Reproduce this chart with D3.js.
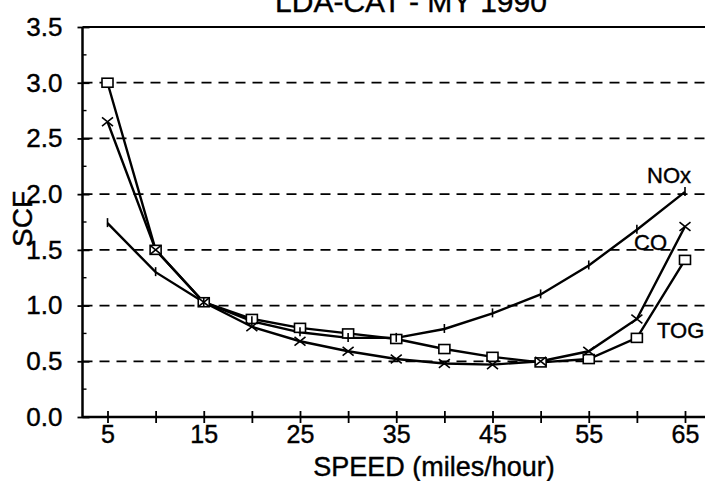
<!DOCTYPE html>
<html>
<head>
<meta charset="utf-8">
<script src="https://cdn.jsdelivr.net/npm/d3@7"></script>
<style>
  body { margin: 0; background: #fff; }
  svg { display: block; font-family: "Liberation Sans", Arial, sans-serif; }
  text { stroke: #000; stroke-width: 0.4px; fill: #000; }
</style>
</head>
<body>
<div id="chart"></div>
<script>
// chart data
var speeds = [5, 10, 15, 20, 25, 30, 35, 40, 45, 50, 55, 60, 65];
var tog = [3.00, 1.50, 1.03, 0.88, 0.80, 0.75, 0.70, 0.61, 0.54, 0.49, 0.52, 0.71, 1.41];
var co  = [2.65, 1.50, 1.03, 0.81, 0.68, 0.59, 0.52, 0.48, 0.47, 0.50, 0.59, 0.88, 1.71];
var nox = [1.74, 1.30, 1.03, 0.86, 0.76, 0.71, 0.71, 0.79, 0.93, 1.10, 1.36, 1.68, 2.02];
var yTicks = [0, 0.5, 1.0, 1.5, 2.0, 2.5, 3.0, 3.5];
var yMinor = [0.25, 0.75, 1.25, 1.75, 2.25, 2.75, 3.25];
var xTicks = [5, 10, 15, 20, 25, 30, 35, 40, 45, 50, 55, 60, 65];
var xLabels = [5, 15, 25, 35, 45, 55, 65];
var seriesNames = ["TOG", "CO", "NOx"];

var width = 705, height = 481;
var axisLeft = 82.5, plotRight = 705;

var svg = d3.select("#chart").append("svg")
    .attr("width", width)
    .attr("height", height);

// scales
var x = d3.scaleLinear().domain([5, 65]).range([107.5, 685]);
var y = d3.scaleLinear().domain([0, 3.5]).range([417, 27]);

// dashed grid lines
svg.append("g").selectAll("line")
    .data(yTicks.filter(function(d) { return d > 0 && d < 3.5; }))
    .enter().append("line")
    .attr("x1", axisLeft).attr("x2", plotRight)
    .attr("y1", function(d) { return y(d); })
    .attr("y2", function(d) { return y(d); })
    .attr("stroke", "#000")
    .attr("stroke-width", 1.8)
    .attr("stroke-dasharray", "10,7");

// top frame line
svg.append("line")
    .attr("x1", axisLeft).attr("x2", plotRight)
    .attr("y1", y(3.5)).attr("y2", y(3.5))
    .attr("stroke", "#000").attr("stroke-width", 2.2);

// y axis
var yAxis = svg.append("g")
    .attr("transform", "translate(" + axisLeft + ",0)")
    .call(d3.axisLeft(y).tickValues(yTicks).tickSize(5).tickPadding(15)
        .tickFormat(d3.format(".1f")));
yAxis.select(".domain").attr("stroke-width", 2.5).attr("d", "M0," + y(3.5) + "V" + y(0));
yAxis.selectAll(".tick line").attr("x2", -5).attr("x1", 7).attr("stroke-width", 1.8);
yAxis.selectAll(".tick text")
    .attr("font-size", 26)
    .attr("fill", "#000");

svg.append("g").selectAll("line")
    .data(yMinor)
    .enter().append("line")
    .attr("x1", axisLeft).attr("x2", axisLeft + 4)
    .attr("y1", function(d) { return y(d); })
    .attr("y2", function(d) { return y(d); })
    .attr("stroke", "#000").attr("stroke-width", 1.4);

// x axis
var xAxis = svg.append("g")
    .attr("transform", "translate(0," + y(0) + ")")
    .call(d3.axisBottom(x).tickValues(xTicks).tickSize(6).tickPadding(2)
        .tickFormat(function(d) { return xLabels.indexOf(d) >= 0 ? d : ""; }));
xAxis.select(".domain").attr("stroke-width", 2.5).attr("d", "M" + axisLeft + ",0H" + plotRight);
xAxis.selectAll(".tick line").attr("y1", -6).attr("y2", 6).attr("stroke-width", 1.8);
xAxis.selectAll(".tick text")
    .attr("font-size", 25)
    .attr("fill", "#000");

// lines
var line = d3.line()
    .x(function(d, i) { return x(speeds[i]); })
    .y(function(d) { return y(d); });

[tog, co, nox].forEach(function(s) {
    svg.append("path")
        .datum(s)
        .attr("d", line)
        .attr("fill", "none")
        .attr("stroke", "#000")
        .attr("stroke-width", 2.4);
});

// TOG squares
svg.append("g").selectAll("rect")
    .data(tog)
    .enter().append("rect")
    .attr("x", function(d, i) { return x(speeds[i]) - 5.5; })
    .attr("y", function(d) { return y(d) - 4.5; })
    .attr("width", 11).attr("height", 9)
    .attr("fill", "#fff").attr("stroke", "#000").attr("stroke-width", 1.6);

// CO crosses
svg.append("g").selectAll("path")
    .data(co)
    .enter().append("path")
    .attr("d", function(d, i) {
        var cx = x(speeds[i]), cy = y(d), r = 5.5;
        return "M" + (cx - r) + "," + (cy - r * 0.8) + "L" + (cx + r) + "," + (cy + r * 0.8) +
               "M" + (cx - r) + "," + (cy + r * 0.8) + "L" + (cx + r) + "," + (cy - r * 0.8);
    })
    .attr("stroke", "#000").attr("stroke-width", 1.6);

// NOx tick marks
svg.append("g").selectAll("line")
    .data(nox)
    .enter().append("line")
    .attr("x1", function(d, i) { return x(speeds[i]); })
    .attr("x2", function(d, i) { return x(speeds[i]); })
    .attr("y1", function(d) { return y(d) - 5; })
    .attr("y2", function(d) { return y(d) + 4; })
    .attr("stroke", "#000").attr("stroke-width", 1.6);

// series labels
var labelPos = [[657, 338], [634, 250], [647, 183]];
svg.append("g").selectAll("text")
    .data(seriesNames)
    .enter().append("text")
    .attr("x", function(d, i) { return labelPos[i][0]; })
    .attr("y", function(d, i) { return labelPos[i][1]; })
    .attr("font-size", 22)
    .text(function(d) { return d; });

// titles
svg.append("text")
    .attr("x", 411).attr("y", 12)
    .attr("text-anchor", "middle")
    .attr("font-size", 30)
    .text("LDA-CAT - MY 1990");

svg.append("text")
    .attr("x", 434).attr("y", 476)
    .attr("text-anchor", "middle")
    .attr("font-size", 27)
    .text("SPEED (miles/hour)");

svg.append("text")
    .attr("transform", "translate(32,219) rotate(-90)")
    .attr("text-anchor", "middle")
    .attr("font-size", 28)
    .text("SCF");
</script>
</body>
</html>
